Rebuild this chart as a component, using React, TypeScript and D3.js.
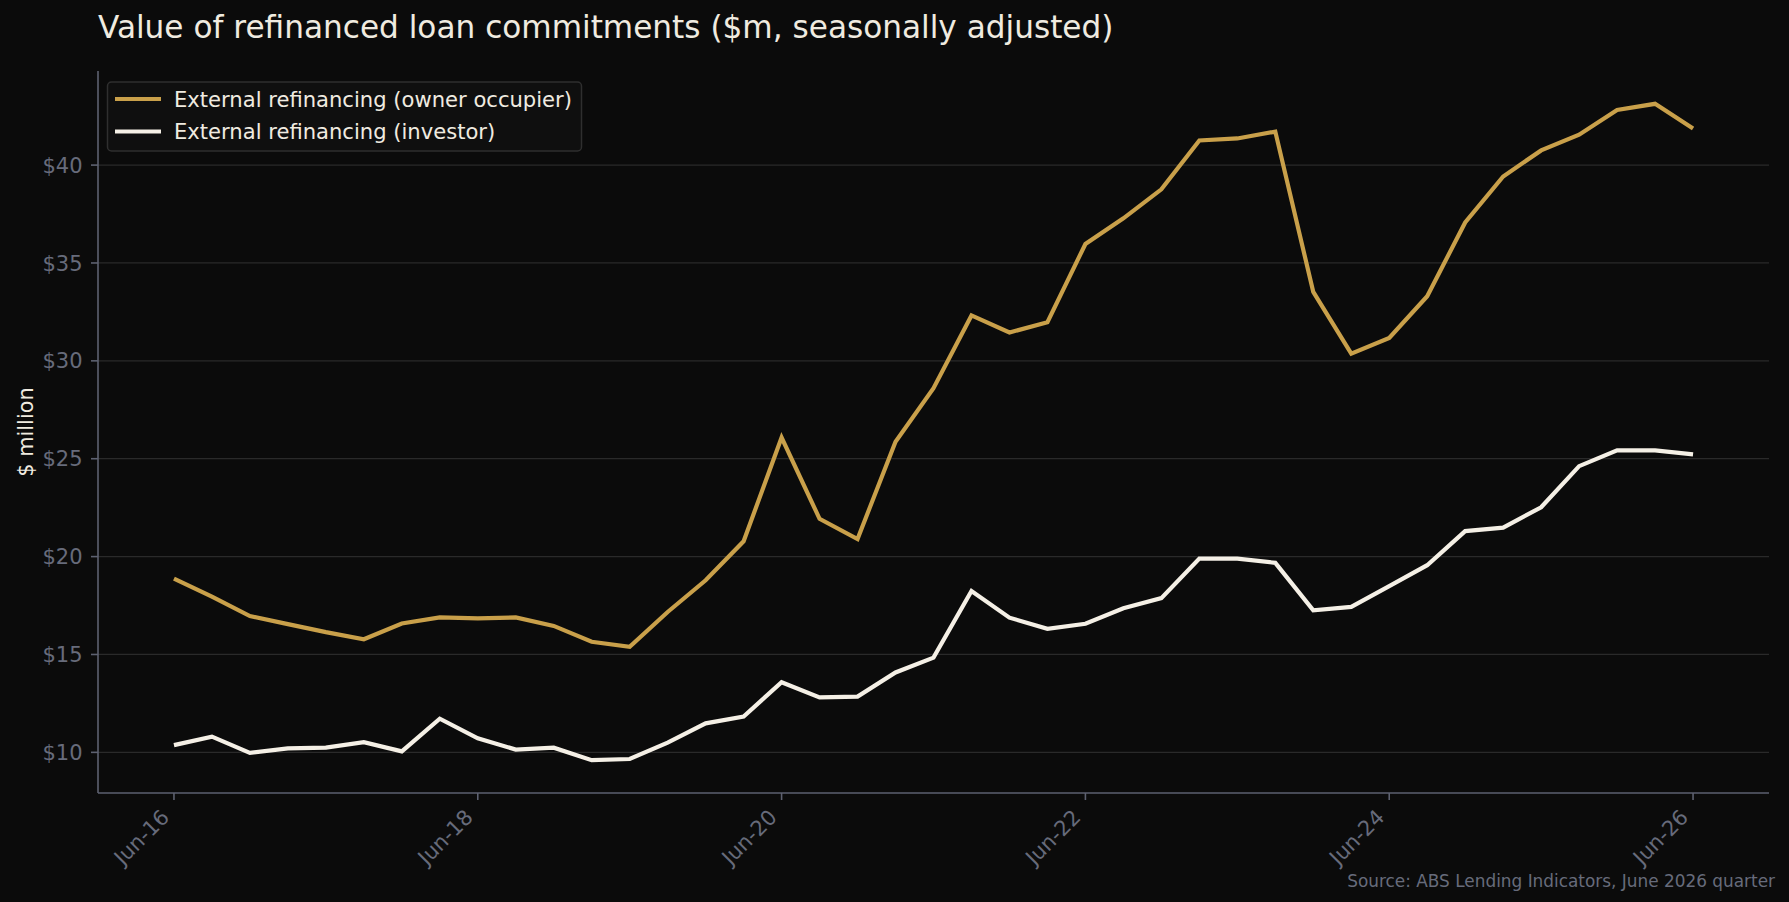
import React from "react";
import * as d3 from "d3";

const W = 1789;
const H = 902;

const quarters = [
  "Jun-16","Sep-16","Dec-16","Mar-17","Jun-17","Sep-17","Dec-17","Mar-18",
  "Jun-18","Sep-18","Dec-18","Mar-19","Jun-19","Sep-19","Dec-19","Mar-20",
  "Jun-20","Sep-20","Dec-20","Mar-21","Jun-21","Sep-21","Dec-21","Mar-22",
  "Jun-22","Sep-22","Dec-22","Mar-23","Jun-23","Sep-23","Dec-23","Mar-24",
  "Jun-24","Sep-24","Dec-24","Mar-25","Jun-25","Sep-25","Dec-25","Mar-26",
  "Jun-26",
];

const ownerOccupier = [
  18.88, 17.95, 16.96, 16.55, 16.14, 15.78, 16.58, 16.89,
  16.84, 16.89, 16.46, 15.65, 15.39, 17.17, 18.79, 20.78,
  26.08, 21.93, 20.9, 25.87, 28.6, 32.32, 31.45, 31.97,
  35.97, 37.28, 38.76, 41.26, 41.36, 41.71, 33.52, 30.37,
  31.17, 33.3, 37.07, 39.42, 40.75, 41.55, 42.82, 43.13,
  41.87,
];

const investor = [
  10.37, 10.8, 9.97, 10.2, 10.24, 10.52, 10.05, 11.72,
  10.72, 10.14, 10.24, 9.6, 9.66, 10.5, 11.48, 11.83,
  13.58, 12.81, 12.85, 14.08, 14.84, 18.24, 16.88, 16.31,
  16.57, 17.36, 17.88, 19.9, 19.9, 19.68, 17.26, 17.43,
  18.49, 19.56, 21.3, 21.48, 22.52, 24.62, 25.43, 25.43,
  25.22,
];

const xTickLabels = ["Jun-16", "Jun-18", "Jun-20", "Jun-22", "Jun-24", "Jun-26"];
const yTicks = [10, 15, 20, 25, 30, 35, 40];

const seriesNames = [
  "External refinancing (owner occupier)",
  "External refinancing (investor)",
];

const BG = "#0b0b0b";
const GOLD = "#c9a04a";
const CREAM = "#f5f0e6";
const GRID = "#2a2a2a";
const SPINE = "#5d6170";
const TICK_TEXT = "#676b7b";
const TEXT = "#f0ebe0";
const FONT = "'DejaVu Sans', sans-serif";

const M = { left: 98, right: 1769, top: 71, bottom: 793 };

export default function App() {
  const n = quarters.length;
  const xPad = (n - 1) * 0.05;
  const x = d3.scaleLinear().domain([-xPad, n - 1 + xPad]).range([M.left, M.right]);
  const all = ownerOccupier.concat(investor);
  const lo = d3.min(all) as number;
  const hi = d3.max(all) as number;
  const yPad = (hi - lo) * 0.05;
  const y = d3.scaleLinear().domain([lo - yPad, hi + yPad]).range([M.bottom, M.top]);

  const line = d3
    .line<number>()
    .x((_, i) => x(i))
    .y((v) => y(v));

  const tickFs = 21;
  const xTickIdx = xTickLabels.map((l) => quarters.indexOf(l));
  const series = [
    { name: seriesNames[0], values: ownerOccupier, color: GOLD },
    { name: seriesNames[1], values: investor, color: CREAM },
  ];

  return (
    <div style={{ position: "fixed", left: 0, top: 0, width: W, height: H, background: BG }}>
      <svg width={W} height={H} style={{ display: "block", fontFamily: FONT }}>
        <rect x={0} y={0} width={W} height={H} fill={BG} />
        {/* gridlines */}
        {yTicks.map((t) => (
          <line key={"g" + t} x1={M.left} x2={M.right} y1={y(t)} y2={y(t)} stroke={GRID} strokeWidth={1.3} />
        ))}
        {/* series */}
        {series.map((s) => (
          <path
            key={s.name}
            d={line(s.values) || ""}
            fill="none"
            stroke={s.color}
            strokeWidth={4.2}
            strokeLinejoin="miter"
            strokeLinecap="butt"
          />
        ))}
        {/* spines */}
        <line x1={M.left} x2={M.left} y1={M.top} y2={M.bottom} stroke={SPINE} strokeWidth={1.6} />
        <line x1={M.left} x2={M.right} y1={M.bottom} y2={M.bottom} stroke={SPINE} strokeWidth={1.6} />
        {/* y ticks */}
        {yTicks.map((t) => (
          <g key={"y" + t}>
            <line x1={M.left - 7} x2={M.left} y1={y(t)} y2={y(t)} stroke={SPINE} strokeWidth={1.6} />
            <text
              x={M.left - 15.5}
              y={y(t)}
              dy="0.36em"
              textAnchor="end"
              fontSize={tickFs}
              fill={TICK_TEXT}
            >
              {"$" + t}
            </text>
          </g>
        ))}
        {/* x ticks */}
        {xTickIdx.map((i, k) => (
          <g key={"x" + i}>
            <line x1={x(i)} x2={x(i)} y1={M.bottom} y2={M.bottom + 7} stroke={SPINE} strokeWidth={1.6} />
            <text
              transform={`translate(${x(i) - 3.5},${M.bottom + 25.5}) rotate(-45)`}
              textAnchor="end"
              fontSize={tickFs}
              fill={TICK_TEXT}
            >
              {xTickLabels[k]}
            </text>
          </g>
        ))}
        {/* y label */}
        <text
          transform={`translate(33,${(M.top + M.bottom) / 2}) rotate(-90)`}
          textAnchor="middle"
          fontSize={20.83}
          fill={TEXT}
        >
          $ million
        </text>
        {/* title */}
        <text x={M.left} y={38} fontSize={31.15} fill={TEXT}>
          Value of refinanced loan commitments ($m, seasonally adjusted)
        </text>
        {/* legend */}
        <rect x={107.5} y={82} width={474} height={69} rx={4} fill="#0f0f0f" stroke="#2f2f2f" strokeWidth={1.5} />
        {series.map((s, i) => (
          <g key={"lg" + i}>
            <line x1={115} x2={161} y1={99 + i * 32.5} y2={99 + i * 32.5} stroke={s.color} strokeWidth={4.2} />
            <text x={174} y={99 + i * 32.5} dy="0.36em" fontSize={21.1} fill={TEXT}>
              {s.name}
            </text>
          </g>
        ))}
        {/* source */}
        <text x={1775} y={887} textAnchor="end" fontSize={16.9} fill={TICK_TEXT}>
          Source: ABS Lending Indicators, June 2026 quarter
        </text>
      </svg>
    </div>
  );
}
